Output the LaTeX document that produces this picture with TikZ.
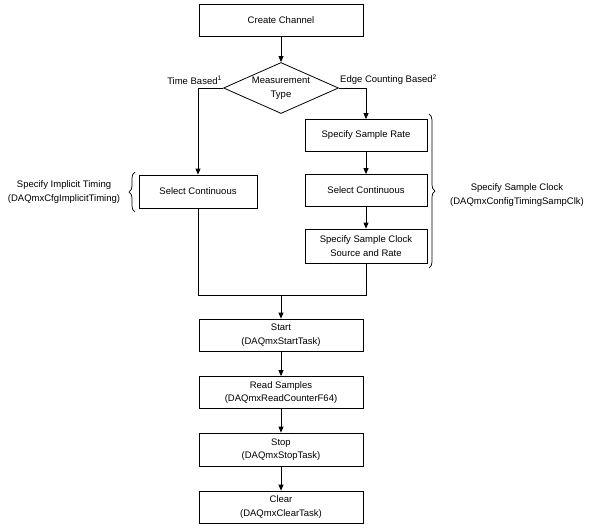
\documentclass[tikz,border=0pt]{standalone}
\usepackage{fontspec}
\setmainfont{Liberation Sans}
\usetikzlibrary{arrows.meta,shapes.geometric,decorations.pathreplacing}
\begin{document}
\begin{tikzpicture}[x=1pt,y=-1pt,
  every node/.style={font=\fontsize{9.5}{13.5}\selectfont},
  box/.style={draw,line width=0.8pt,minimum width=164pt,minimum height=32pt,inner sep=0pt,align=center},
  sbox/.style={draw,line width=0.8pt,minimum width=122pt,minimum height=32pt,inner sep=0pt,align=center},
  dia/.style={draw,line width=0.8pt,diamond,aspect=2.25,minimum width=115pt,minimum height=51pt,inner sep=0pt,align=center},
  conn/.style={line width=0.8pt},
  arr/.style={line width=0.8pt,-{Triangle[length=6pt,width=5pt]}},
  brc/.style={line width=0.7pt,decorate,decoration={brace,amplitude=6pt}},
  lbl/.style={align=center,inner sep=0pt}
]
\useasboundingbox (0,0) rectangle (589,528);
\node[box] (create) at (281,20) {Create Channel};
\node[dia] (meas) at (281,88) {Measurement\\Type};
\node[sbox] (rate) at (366,135.5) {Specify Sample Rate};
\node[sbox] (contR) at (366,190.5) {Select Continuous};
\node[sbox,minimum height=34pt] (src) at (366,246) {Specify Sample Clock\\Source and Rate};
\node[draw,line width=0.8pt,minimum width=118pt,minimum height=33pt,inner sep=0pt] (contL) at (198,191.5) {Select Continuous};
\node[box] (start) at (281,335) {Start\\(DAQmxStartTask)};
\node[box] (read) at (281,392.5) {Read Samples\\(DAQmxReadCounterF64)};
\node[box,minimum height=33pt] (stop) at (281,449.5) {Stop\\(DAQmxStopTask)};
\node[box] (clear) at (281,507) {Clear\\(DAQmxClearTask)};
\coordinate (tl) at (198,88);
\coordinate (tr) at (366,88);
\coordinate (jl) at (198,295);
\coordinate (jr) at (366,295);
\coordinate (jm) at (281,295);
\node[lbl,anchor=south east] (tb) at (222,85) {Time Based\textsuperscript{1}};
\node[lbl,anchor=south west] (ecb) at (340,85) {Edge Counting Based\textsuperscript{2}};
\node[lbl] (impl) at (64,192) {Specify Implicit Timing\\(DAQmxCfgImplicitTiming)};
\node[lbl] (samp) at (517,195) {Specify Sample Clock\\(DAQmxConfigTimingSampClk)};
\draw[arr] (create) -- (meas);
\draw[arr] (meas.west) -- (tl) -- (contL.north);
\draw[arr] (meas.east) -- (tr) -- (rate.north);
\draw[arr] (rate) -- (contR);
\draw[arr] (contR) -- (src);
\draw[conn] (contL.south) -- (jl) -- (jr) -- (src.south);
\draw[arr] (jm) -- (start);
\draw[arr] (start) -- (read);
\draw[arr] (read) -- (stop);
\draw[arr] (stop) -- (clear);
\draw[brc] (429,114) -- (429,268);
\draw[brc] (135,212) -- (135,172);
\end{tikzpicture}
\end{document}
